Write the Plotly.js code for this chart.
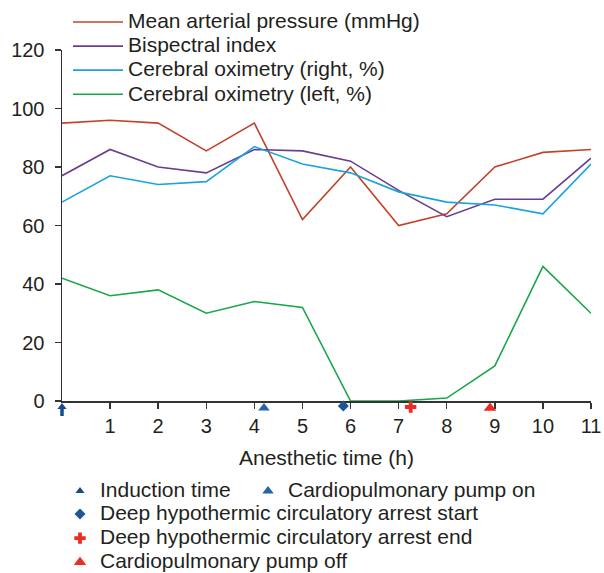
<!DOCTYPE html>
<html>
<head>
<meta charset="utf-8">
<script src="https://cdn.plot.ly/plotly-3.0.1.min.js"></script>
<style>html,body{margin:0;padding:0;background:#fff;}#chart{width:604px;height:573px;}</style>
</head>
<body>
<div id="chart"></div>
<script>
// Anesthetic time (h)
const hours = [0, 1, 2, 3, 4, 5, 6, 7, 8, 9, 10, 11];
const meanArterialPressure = [95, 96, 95, 85.5, 95, 62, 80, 60, 64, 80, 85, 86];
const bispectralIndex = [77, 86, 80, 78, 86, 85.5, 82, 72, 63, 69, 69, 83];
const oximetryRight = [68, 77, 74, 75, 87, 81, 78, 71.5, 68, 67, 64, 81];
const oximetryLeft = [42, 36, 38, 30, 34, 32, 0, 0, 1, 12, 46, 30];
const seriesNames = ["Mean arterial pressure (mmHg)", "Bispectral index", "Cerebral oximetry (right, %)", "Cerebral oximetry (left, %)"];

// Surgical events (time in h)
const eventNames = ["Induction time", "Cardiopulmonary pump on", "Deep hypothermic circulatory arrest start", "Deep hypothermic circulatory arrest end", "Cardiopulmonary pump off"];
const eventTimes = [0, 4.2, 5.85, 7.25, 8.9];

const xTicks = [1, 2, 3, 4, 5, 6, 7, 8, 9, 10, 11];
const yTicks = [0, 20, 40, 60, 80, 100, 120];

const FONT = '"Liberation Sans", Arial, Helvetica, sans-serif';
const TXT = '#231f20';
const lineColors = ['#c1432a', '#6b3d8f', '#1aa3dd', '#18a54b'];
const seriesData = [meanArterialPressure, bispectralIndex, oximetryRight, oximetryLeft];
const big = s => '<span style="font-size:21px">' + s + '</span>';

const traces = [];
seriesData.forEach((vals, i) => {
  traces.push({
    x: hours, y: vals, name: big(seriesNames[i]), type: 'scatter', mode: 'lines',
    line: {color: lineColors[i], width: 1.6}, legend: 'legend', cliponaxis: false
  });
});

// marker styles; "dy" is the pixel offset below the time axis (strip axis y2 is in px)
const evStyle = [
  {symbol: 'triangle-up', color: '#174c88', size: 8, dy: -6, legend: 'legend2'},
  {symbol: 'triangle-up', color: '#2763a6', size: 10, dy: -7, legend: 'legend4'},
  {symbol: 'diamond', color: '#1f5596', size: 8.5, dy: -5, legend: 'legend3'},
  {symbol: 'cross', color: '#ee2a24', size: 9.5, dy: -6, legend: 'legend3'},
  {symbol: 'triangle-up', color: '#ee2a24', size: 11, dy: -7, legend: 'legend3'}
];
eventNames.forEach((nm, i) => {
  const s = evStyle[i];
  traces.push({
    x: [eventTimes[i]], y: [s.dy], yaxis: 'y2', name: big(nm), type: 'scatter', mode: 'markers',
    marker: {symbol: s.symbol, color: s.color, size: s.size, line: {width: 0}},
    legend: s.legend, cliponaxis: false
  });
});
// stem of the induction arrow
traces.push({
  x: [eventTimes[0]], y: [-11.5], yaxis: 'y2', type: 'scatter', mode: 'markers', showlegend: false,
  marker: {symbol: 'line-ns', size: 5, color: '#174c88', line: {width: 3.5, color: '#174c88'}},
  cliponaxis: false, hoverinfo: 'skip'
});

const PH = 365; // plot area height in px (351 for the axis + 14 strip for event marks)
const py = px => 1 - (px - 50) / PH;
const px2x = px => (px - 62) / 529;
const legFont = {family: FONT, size: 16.2, color: TXT};
const legBase = {xanchor: 'left', yanchor: 'top', font: legFont, bgcolor: 'rgba(0,0,0,0)', tracegroupgap: 0};
const layout = {
  width: 604, height: 573,
  margin: {l: 62, r: 13, t: 50, b: 158, autoexpand: false},
  paper_bgcolor: '#ffffff', plot_bgcolor: 'rgba(0,0,0,0)',
  font: {family: FONT, size: 19, color: TXT},
  showlegend: true,
  xaxis: {
    range: [0, 11], tickvals: xTicks, ticktext: xTicks.map(String), anchor: 'y',
    showgrid: false, zeroline: false, showline: true, linecolor: '#333333', linewidth: 1.5,
    ticks: 'outside', ticklen: 6, tickwidth: 1.5, tickcolor: '#333333',
    tickfont: {family: FONT, size: 20, color: TXT}, ticklabelstandoff: 0,
    title: {text: 'Anesthetic time (h)', font: {family: FONT, size: 21, color: TXT}, standoff: 15}
  },
  yaxis: {
    domain: [14 / PH, 1], range: [0, 120], tickvals: yTicks,
    showgrid: false, zeroline: false, showline: true, linecolor: '#333333', linewidth: 1.5,
    ticks: 'outside', ticklen: 6, tickwidth: 1.5, tickcolor: '#333333',
    tickfont: {family: FONT, size: 20, color: TXT}, ticklabelstandoff: 6
  },
  yaxis2: {domain: [0, 14 / PH], range: [-14, 0], visible: false, anchor: 'x', fixedrange: true},
  legend: Object.assign({}, legBase, {x: px2x(68), y: py(5), orientation: 'v', itemwidth: 50}),
  legend2: Object.assign({}, legBase, {x: px2x(60), y: py(474), orientation: 'v'}),
  legend4: Object.assign({}, legBase, {x: px2x(248), y: py(474), orientation: 'v'}),
  legend3: Object.assign({}, legBase, {x: px2x(60), y: py(497), orientation: 'v'})
};

Plotly.newPlot('chart', traces, layout, {displayModeBar: false, staticPlot: true});
</script>
</body>
</html>
